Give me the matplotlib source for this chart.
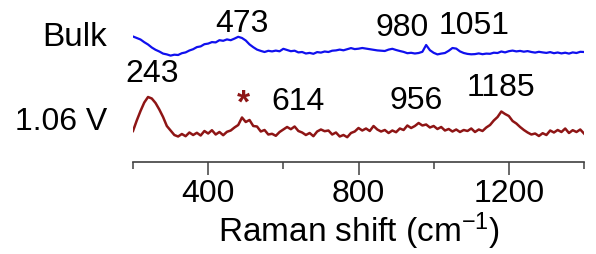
import numpy as np
import matplotlib
matplotlib.use("Agg")
import matplotlib.pyplot as plt
from matplotlib.ticker import FixedLocator

plt.rcParams['font.family'] = ['Liberation Sans', 'DejaVu Sans']
plt.rcParams['mathtext.fontset'] = 'custom'
plt.rcParams['mathtext.rm'] = 'Liberation Sans'
plt.rcParams['mathtext.it'] = 'Liberation Sans'
plt.rcParams['mathtext.default'] = 'rm'

# Raman shift grid (cm-1)
shift = list(range(200, 1401, 10))

# Bulk spectrum (a.u.)
bulk = [23.5, 22.0, 20.5, 17.8, 15.5, 12.5, 10.2, 8.5, 6.4, 5.6,
        4.4, 5.3, 5.0, 6.8, 7.6, 9.5, 10.8, 12.9, 13.6, 15.8,
        16.4, 17.9, 17.6, 19.8, 19.2, 20.6, 19.8, 21.4, 23.2, 22.0,
        19.5, 15.6, 12.8, 10.4, 9.1, 8.0, 9.2, 8.6, 9.4, 8.7,
        11.2, 10.0, 8.8, 9.3, 7.6, 8.0, 6.5, 7.1, 6.2, 7.9,
        7.4, 8.5, 8.0, 9.3, 9.6, 10.4, 9.7, 10.8, 11.9, 10.9,
        11.3, 12.0, 11.4, 10.8, 10.2, 9.6, 9.3, 9.0, 10.4, 11.2,
        10.0, 9.0, 8.1, 6.8, 7.2, 6.5, 7.0, 8.2, 15.0, 9.8,
        7.2, 5.6, 6.4, 7.0, 9.2, 12.0, 11.4, 8.6, 7.0, 6.1,
        5.7, 5.9, 6.6, 5.8, 6.4, 6.2, 7.3, 7.0, 8.5, 7.6,
        8.8, 9.4, 8.6, 9.1, 8.3, 8.9, 8.0, 7.4, 8.2, 7.6,
        7.1, 7.9, 6.8, 7.5, 6.6, 7.3, 6.4, 7.6, 7.0, 8.2,
        8.0]

# 1.06 V spectrum (a.u.)
v106 = [9.0, 19.5, 29.0, 37.5, 43.0, 41.5, 37.0, 30.5, 23.0, 14.0,
        9.5, 5.0, 3.5, 6.0, 3.8, 7.5, 5.0, 7.2, 4.5, 9.0,
        6.5, 9.8, 5.5, 8.0, 4.8, 8.2, 9.5, 12.5, 15.0, 22.5,
        18.0, 20.0, 14.0, 13.5, 8.5, 10.0, 5.5, 6.2, 4.2, 8.0,
        10.5, 13.0, 10.8, 13.5, 9.0, 7.5, 5.0, 7.0, 3.8, 8.5,
        10.5, 8.8, 9.5, 5.5, 7.5, 3.5, 5.0, 2.8, 7.0, 8.5,
        12.0, 9.5, 11.5, 9.0, 14.0, 10.5, 8.5, 10.0, 7.0, 9.5,
        7.8, 11.5, 10.0, 14.5, 12.0, 14.0, 17.0, 14.5, 15.5, 12.5,
        14.0, 11.0, 13.0, 9.5, 11.0, 8.5, 10.5, 8.0, 10.0, 9.0,
        11.5, 8.0, 10.5, 9.0, 12.5, 15.0, 19.5, 23.0, 28.5, 26.0,
        24.0, 19.0, 16.5, 13.0, 10.0, 7.5, 5.5, 6.5, 4.0, 6.8,
        5.0, 9.5, 7.5, 10.0, 8.0, 11.5, 7.0, 9.8, 8.0, 10.5,
        6.5]

bulk_peaks = ['473', '980', '1051']
v106_peaks = ['243', '614', '956', '1185']
sample_labels = ['Bulk', '1.06 V']
major_ticks = [400, 800, 1200]
minor_ticks = [200, 600, 1000, 1400]

blue = '#1010ee'
red = '#8e1515'

fig = plt.figure(figsize=(5.96, 2.54), dpi=100)
ax = fig.add_axes([133/596, 92/254, (584-133)/596, 162/254])

off_bulk = 102
off_red = 22
ax.plot(shift, np.array(bulk) + off_bulk, color=blue, lw=1.6)
ax.plot(shift, np.array(v106) + off_red, color=red, lw=1.8)

ax.set_xlim(200, 1400)
ax.set_ylim(0, 162)

for s in ['top', 'right', 'left']:
    ax.spines[s].set_visible(False)
ax.spines['bottom'].set_color('#404040')
ax.spines['bottom'].set_linewidth(1.2)
ax.set_yticks([])
ax.xaxis.set_major_locator(FixedLocator(major_ticks))
ax.xaxis.set_minor_locator(FixedLocator(minor_ticks))
ax.tick_params(axis='x', which='major', length=9.5, width=1.1, color='#404040',
               labelsize=23, pad=3)
ax.tick_params(axis='x', which='minor', length=5, width=1.1, color='#404040')
ax.set_xlabel('Raman shift (cm$^{-1}$)', fontsize=24, labelpad=1)

# peak labels
bulk_pos = [(490, 138), (915, 134), (1107, 136)]
for lab, (x, y) in zip(bulk_peaks, bulk_pos):
    ax.text(x, y, lab, fontsize=23, ha='center', va='center', clip_on=False)
red_pos = [(251, 88), (640, 60), (952, 61), (1179, 74)]
for lab, (x, y) in zip(v106_peaks, red_pos):
    ax.text(x, y, lab, fontsize=23, ha='center', va='center', clip_on=False)
ax.text(493, 58, '*', fontsize=24, ha='center', va='center', color=red,
        fontweight='bold')

fig.text(107/596, (254-37)/254, sample_labels[0], fontsize=24, ha='right', va='center')
fig.text(107/596, (254-122)/254, sample_labels[1], fontsize=23, ha='right', va='center')

fig.savefig('out.png', dpi=100)
